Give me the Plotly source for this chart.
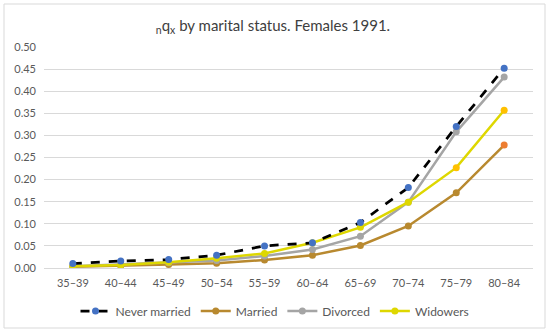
import plotly.graph_objects as go

ages = ["35–39", "40–44", "45–49", "50–54", "55–59", "60–64", "65–69", "70–74", "75–79", "80–84"]
never_married = [0.010, 0.016, 0.019, 0.029, 0.050, 0.057, 0.103, 0.182, 0.320, 0.452]
married = [0.003, 0.005, 0.008, 0.011, 0.018, 0.029, 0.051, 0.095, 0.170, 0.278]
divorced = [0.004, 0.008, 0.012, 0.017, 0.027, 0.042, 0.072, 0.149, 0.308, 0.432]
widowers = [0.004, 0.007, 0.013, 0.022, 0.033, 0.057, 0.092, 0.149, 0.227, 0.357]
yticks = [0.0, 0.05, 0.10, 0.15, 0.20, 0.25, 0.30, 0.35, 0.40, 0.45, 0.50]

FONT = "Lato"
fig = go.Figure()

fig.add_trace(go.Scatter(
    x=ages, y=married, name="Married", mode="lines+markers",
    line=dict(color="#B8892F", width=2.5),
    marker=dict(size=7, color=["#B8892F"] * 9 + ["#ED7D31"]),
    legendrank=2,
))
fig.add_trace(go.Scatter(
    x=ages, y=divorced, name="Divorced", mode="lines+markers",
    line=dict(color="#A5A5A5", width=2.5),
    marker=dict(size=7, color="#A5A5A5"),
    legendrank=3,
))
fig.add_trace(go.Scatter(
    x=ages, y=widowers, name="Widowers", mode="lines+markers",
    line=dict(color="#DED700", width=2.5),
    marker=dict(size=7, color=["#DED700"] * 8 + ["#FFC000", "#FFC000"]),
    legendrank=4,
))
fig.add_trace(go.Scatter(
    x=ages, y=never_married, name="Never married", mode="lines+markers",
    line=dict(color="black", width=2.75, dash="dash"),
    marker=dict(size=7, color="#4472C4"),
    legendrank=1,
))

fig.update_layout(
    width=550, height=332,
    margin=dict(l=44, r=17, t=47, b=64, autoexpand=False),
    paper_bgcolor="white", plot_bgcolor="white",
    font=dict(family=FONT, color="#595959", size=11),
    title=dict(
        text="<sub>n</sub>q<sub>x</sub> by marital status. Females 1991.",
        x=273 / 550, xanchor="center", xref="container",
        y=1 - 26 / 332, yanchor="middle", yref="container",
        font=dict(family=FONT, size=15, color="#404040"),
    ),
    showlegend=True,
    legend=dict(
        orientation="h", x=0.5, xanchor="center", xref="container",
        y=21 / 332, yanchor="middle", yref="container",
        font=dict(family=FONT, size=12, color="#595959"),
        traceorder="normal", itemwidth=30,
    ),
    xaxis=dict(
        showgrid=False, showline=False, zeroline=False, automargin=False,
        ticks="", tickfont=dict(size=11), ticklabelstandoff=7,
    ),
    yaxis=dict(
        range=[0, 0.5], tickvals=yticks, tickformat=".2f", automargin=False,
        showgrid=True, gridcolor="#D9D9D9", gridwidth=1,
        zeroline=True, zerolinecolor="#D9D9D9", zerolinewidth=1,
        showline=False, ticks="", tickfont=dict(size=11), ticklabelstandoff=7,
    ),
    shapes=[dict(
        type="rect", xref="paper", yref="paper",
        x0=(4 - 44) / 489, x1=(545 - 44) / 489,
        y0=(268 - 328) / 221, y1=(268 - 4) / 221,
        line=dict(color="#D9D9D9", width=1), fillcolor="rgba(0,0,0,0)",
        layer="above",
    )],
)

fig.write_html(
    "out.html",
    config={"displayModeBar": False},
    post_script="document.body.style.margin='0';document.body.style.overflow='hidden';",
)
